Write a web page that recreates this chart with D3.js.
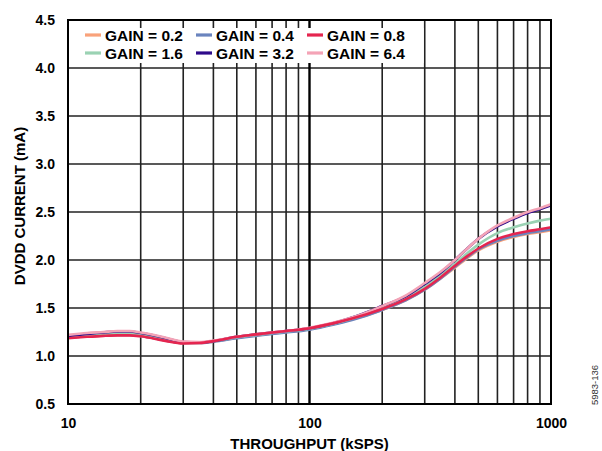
<!DOCTYPE html>
<html><head><meta charset="utf-8">
<script src="https://cdn.jsdelivr.net/npm/d3@7"></script>
<style>body{margin:0;background:#fff}svg{display:block}text{font-family:"Liberation Sans",Arial,sans-serif;font-weight:bold}</style>
</head><body>
<svg id="c" width="602" height="451"></svg>
<script>
const throughput = [10,12,14,16,18,20,25,30,35,40,50,60,70,80,100,125,150,200,250,300,350,400,450,500,600,700,800,900,1000];
const gain02 = [1.19,1.205,1.215,1.22,1.22,1.21,1.165,1.135,1.135,1.15,1.19,1.215,1.235,1.25,1.28,1.33,1.38,1.48,1.58,1.69,1.81,1.92,2.02,2.10,2.19,2.24,2.27,2.29,2.31];
const gain04 = [1.19,1.205,1.215,1.22,1.22,1.21,1.165,1.135,1.135,1.15,1.185,1.21,1.23,1.245,1.275,1.325,1.375,1.48,1.58,1.69,1.81,1.93,2.03,2.11,2.20,2.25,2.28,2.30,2.32];
const gain08 = [1.185,1.20,1.21,1.215,1.215,1.205,1.16,1.13,1.135,1.155,1.20,1.225,1.245,1.26,1.29,1.34,1.39,1.49,1.59,1.70,1.82,1.94,2.04,2.12,2.22,2.27,2.30,2.32,2.34];
const gain16 = [1.20,1.215,1.225,1.235,1.235,1.225,1.175,1.14,1.14,1.155,1.195,1.22,1.24,1.255,1.285,1.335,1.39,1.50,1.60,1.72,1.84,1.96,2.07,2.16,2.28,2.34,2.38,2.41,2.43];
const gain32 = [1.21,1.23,1.245,1.255,1.255,1.24,1.19,1.145,1.14,1.155,1.20,1.225,1.245,1.26,1.29,1.34,1.40,1.52,1.62,1.75,1.87,2.00,2.12,2.22,2.35,2.43,2.49,2.53,2.57];
const gain64 = [1.22,1.24,1.25,1.26,1.26,1.245,1.195,1.15,1.145,1.16,1.20,1.225,1.245,1.26,1.295,1.345,1.40,1.52,1.63,1.76,1.88,2.00,2.12,2.22,2.36,2.44,2.50,2.54,2.58];
const seriesNames = ["GAIN = 0.2","GAIN = 0.4","GAIN = 0.8","GAIN = 1.6","GAIN = 3.2","GAIN = 6.4"];
const seriesColors = ["#F9A27A","#6A84BE","#E5254F","#9AD2B3","#2E0A8A","#F4A3B6"];
const yTicks = [0.5,1.0,1.5,2.0,2.5,3.0,3.5,4.0,4.5];
const xTickLabels = [10,100,1000];
const xMinor = [20,30,40,50,60,70,80,90,200,300,400,500,600,700,800,900];

const svg = d3.select("#c");
const L=68, R=551, T=20, B=404;
const x = d3.scaleLog().domain([10,1000]).range([L,R]);
const y = d3.scaleLinear().domain([0.5,4.5]).range([B,T]);

const g = svg.append("g");
g.selectAll(".hg").data(yTicks).enter().append("line")
 .attr("x1",L).attr("x2",R).attr("y1",d=>y(d)).attr("y2",d=>y(d))
 .attr("stroke","#222").attr("stroke-width",1.6);
g.selectAll(".vg").data(xMinor).enter().append("line")
 .attr("y1",T).attr("y2",B).attr("x1",d=>x(d)).attr("x2",d=>x(d))
 .attr("stroke","#222").attr("stroke-width",1.6);
g.append("line").attr("y1",T).attr("y2",B).attr("x1",x(100)).attr("x2",x(100))
 .attr("stroke","#000").attr("stroke-width",2.4);

// legend box
svg.append("rect").attr("x",L+1).attr("y",28).attr("width",x(300)-L-2).attr("height",35).attr("fill","#fff");

const series=[gain02,gain04,gain08,gain16,gain32,gain64];
const order = [0,1,3,4,5,2];
const line = d3.line().x((d,i)=>x(throughput[i])).y(d=>y(d)).curve(d3.curveMonotoneX);
order.forEach(k=>{
  svg.append("path").attr("d",line(series[k])).attr("fill","none")
   .attr("stroke",seriesColors[k]).attr("stroke-width",2.6);
});

svg.append("rect").attr("x",L).attr("y",T).attr("width",R-L).attr("height",B-T)
 .attr("fill","none").attr("stroke","#000").attr("stroke-width",2);

const yAxis = d3.axisLeft(y).tickValues(yTicks).tickFormat(d3.format(".1f")).tickSize(0).tickPadding(13);
const ya = svg.append("g").attr("transform",`translate(${L},0)`).call(yAxis);
ya.select(".domain").remove();
ya.selectAll("text").attr("font-size",14).attr("fill","#000").style("font-family","Liberation Sans, Arial, sans-serif").style("font-weight","bold");

const xAxis = d3.axisBottom(x).tickValues(xTickLabels).tickFormat(d3.format("d")).tickSize(0).tickPadding(14);
const xa = svg.append("g").attr("transform",`translate(0,${B})`).call(xAxis);
xa.select(".domain").remove();
xa.selectAll("text").attr("font-size",14).attr("fill","#000").style("font-family","Liberation Sans, Arial, sans-serif").style("font-weight","bold");

svg.append("text").attr("x",x(100)).attr("y",449).attr("text-anchor","middle").attr("font-size",15).text("THROUGHPUT (kSPS)");
svg.append("text").attr("transform",`translate(25,206) rotate(-90)`).attr("text-anchor","middle").attr("font-size",15).text("DVDD CURRENT (mA)");
svg.append("text").attr("transform",`translate(598,385) rotate(-90)`).attr("text-anchor","middle").attr("font-size",9.5)
 .style("font-weight","normal").attr("fill","#333").text("5983-136");

const colX=[85,196,307], rowY=[35,53];
seriesNames.forEach((n,i)=>{
  const cx=colX[i%3], cy=rowY[Math.floor(i/3)];
  svg.append("line").attr("x1",cx).attr("x2",cx+16).attr("y1",cy).attr("y2",cy).attr("stroke",seriesColors[i]).attr("stroke-width",3.2);
  svg.append("text").attr("x",cx+20).attr("y",cy+5.5).attr("font-size",15.5).attr("fill","#000").text(n);
});
</script>
</body></html>
